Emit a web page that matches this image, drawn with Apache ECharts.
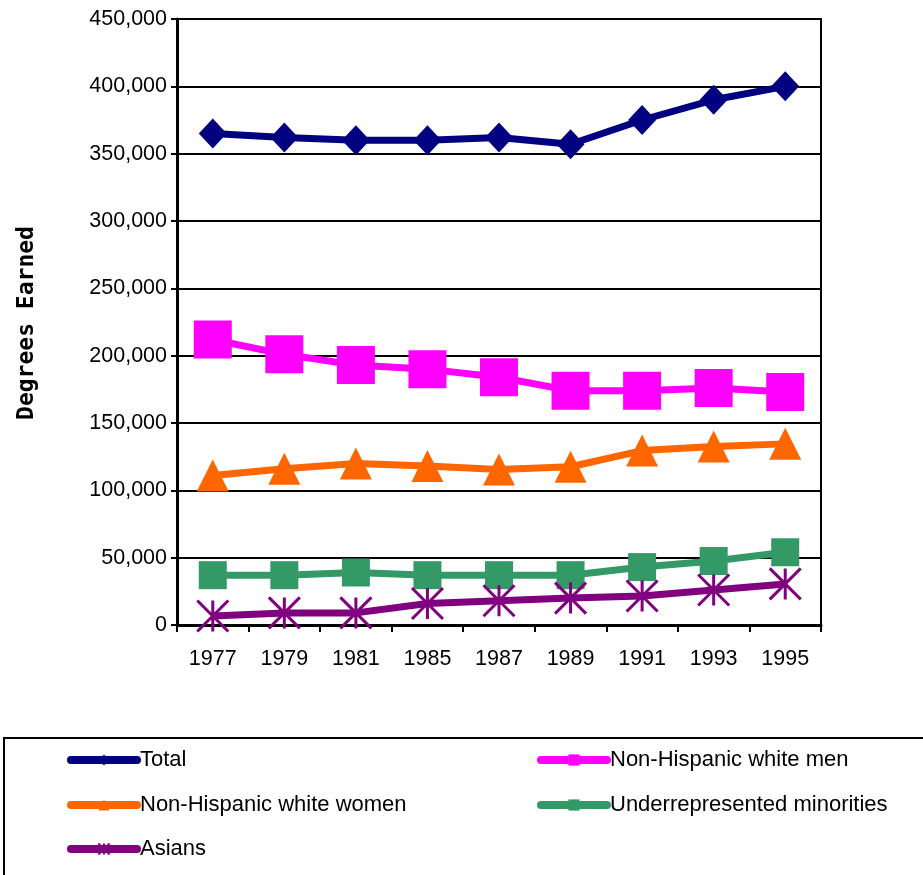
<!DOCTYPE html>
<html>
<head>
<meta charset="utf-8">
<title>Degrees Earned</title>
<script src="https://cdn.jsdelivr.net/npm/echarts@6/dist/echarts.min.js"></script>
<style>
  html, body { margin: 0; padding: 0; background: #ffffff; }
  #chart { width: 923px; height: 875px; }
</style>
</head>
<body>
<div id="chart"></div>
<script>
// Survey years on the category axis
const years = ['1977', '1979', '1981', '1985', '1987', '1989', '1991', '1993', '1995'];

// Degrees earned per group
const total          = [365000, 362000, 360000, 360000, 362000, 357000, 375000, 390000, 400000];
const whiteMen       = [212000, 201000, 193000, 190000, 184000, 174000, 174000, 176000, 173000];
const whiteWomen     = [111000, 116000, 120000, 118000, 115500, 117500, 129500, 132500, 134500];
const underrepMinor  = [37000, 37000, 39000, 37000, 37000, 37000, 43000, 47500, 54000];
const asians         = [6700, 9000, 9000, 16000, 18000, 20000, 21500, 26000, 30500];

// Value axis tick values
const yTicks = [0, 50000, 100000, 150000, 200000, 250000, 300000, 350000, 400000, 450000];

const FONT = '"Liberation Sans", Arial, sans-serif';
const asteriskPath = 'path://M0 0 L10 10 M10 0 L0 10 M5 0 L5 10';

const chart = echarts.init(document.getElementById('chart'), null, { renderer: 'canvas' });

function lineSeries(name, data, color, symbol, size, extra) {
  return Object.assign({
    name: name,
    type: 'line',
    data: data,
    symbol: symbol,
    symbolSize: size,
    showAllSymbol: true,
    lineStyle: { color: color, width: 7 },
    itemStyle: { color: color },
    emphasis: { disabled: true },
    z: 3
  }, extra || {});
}

function legendAt(name, left, top) {
  return {
    data: [name],
    left: left,
    top: top,
    padding: 0,
    itemWidth: 66,
    itemHeight: 14,
    itemGap: 0,
    selectedMode: false,
    lineStyle: { width: 8, cap: 'round' },
    textStyle: { fontFamily: FONT, fontSize: 22, color: '#000000', padding: [0, 0, 0, -2] }
  };
}

chart.setOption({
  animation: false,
  backgroundColor: '#ffffff',
  grid: {
    left: 177, right: 102, top: 19, bottom: 250,
    show: true, borderColor: '#000000', borderWidth: 2, backgroundColor: 'transparent'
  },
  xAxis: {
    type: 'category',
    data: years,
    boundaryGap: true,
    axisLine: { lineStyle: { color: '#000000', width: 3 } },
    axisTick: { show: true, length: 7, lineStyle: { color: '#000000', width: 2 } },
    axisLabel: { fontFamily: FONT, fontSize: 21.5, color: '#000000', margin: 23 }
  },
  yAxis: {
    type: 'value',
    min: yTicks[0],
    max: yTicks[yTicks.length - 1],
    interval: yTicks[1] - yTicks[0],
    axisLine: { show: true, lineStyle: { color: '#000000', width: 3 } },
    axisTick: { show: true, length: 6, lineStyle: { color: '#000000', width: 2 } },
    splitLine: { show: true, lineStyle: { color: '#000000', width: 2 } },
    axisLabel: {
      fontFamily: FONT, fontSize: 21.5, color: '#000000', margin: 10,
      formatter: v => v.toLocaleString('en-US')
    }
  },
  legend: [
    legendAt('Total', 67, 749),
    legendAt('Non-Hispanic white men', 537, 749),
    legendAt('Non-Hispanic white women', 67, 794),
    legendAt('Underrepresented minorities', 537, 794),
    legendAt('Asians', 67, 838)
  ],
  graphic: [
    {
      type: 'rect',
      shape: { x: 4, y: 738, width: 960, height: 170 },
      style: { fill: 'none', stroke: '#000000', lineWidth: 2 },
      z: -1
    },
    {
      type: 'text',
      x: 27, y: 323,
      rotation: Math.PI / 2,
      style: {
        text: 'Degrees Earned',
        font: 'bold 23px "DejaVu Sans Mono", monospace',
        fill: '#000000',
        align: 'center',
        verticalAlign: 'middle'
      }
    }
  ],
  series: [
    lineSeries('Total', total, '#000080', 'diamond', [28, 30]),
    lineSeries('Non-Hispanic white men', whiteMen, '#FF00FF', 'rect', 38),
    lineSeries('Non-Hispanic white women', whiteWomen, '#FF6600', 'triangle', [32, 32]),
    lineSeries('Underrepresented minorities', underrepMinor, '#339966', 'rect', 28),
    lineSeries('Asians', asians, '#800080', asteriskPath, 31, {
      itemStyle: { color: 'transparent', borderColor: '#800080', borderWidth: 3 }
    })
  ]
});
</script>
</body>
</html>
